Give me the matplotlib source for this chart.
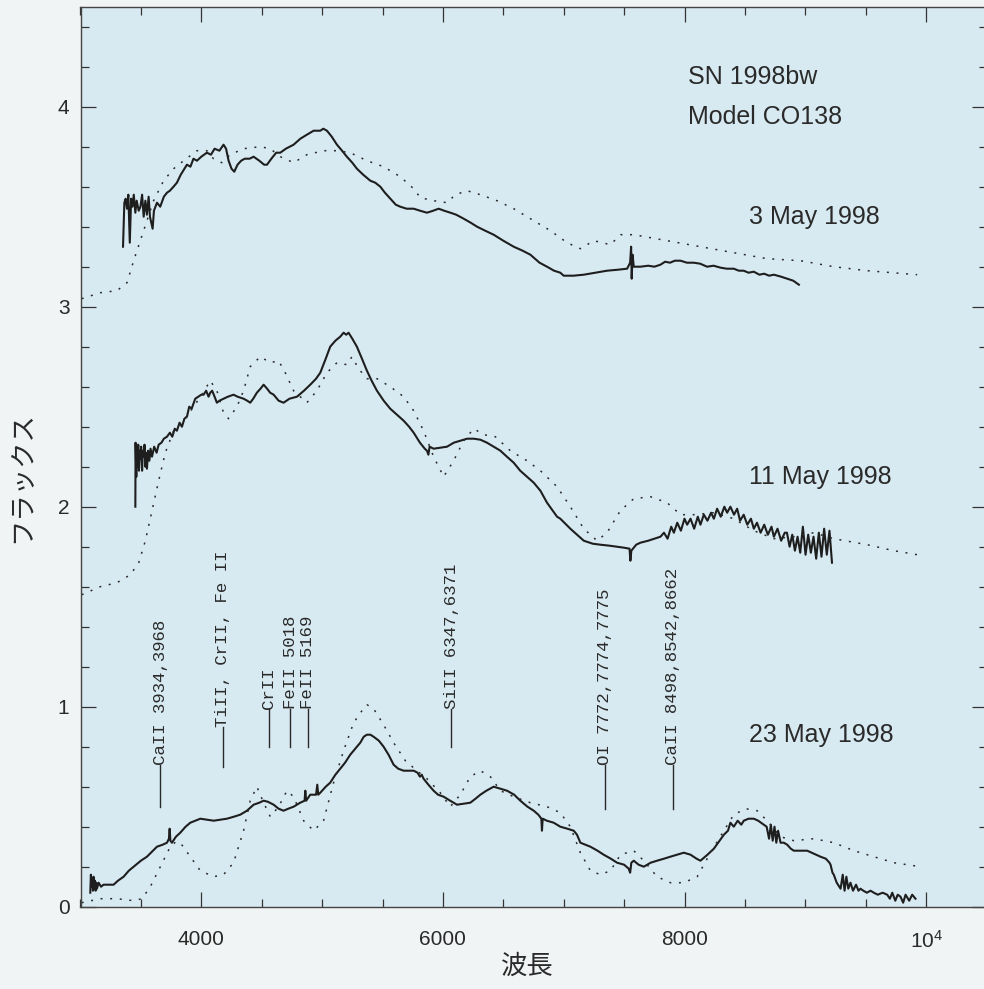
import matplotlib
matplotlib.use("Agg")
import matplotlib.pyplot as plt
from matplotlib.ticker import MultipleLocator, FixedLocator

plt.rcParams['font.family'] = ['Liberation Sans', 'DejaVu Sans']
plt.rcParams['mathtext.fontset'] = 'custom'
plt.rcParams['mathtext.rm'] = 'Liberation Sans'

# ---------------- data (wavelength in Angstrom, flux) ----------------
may3_wl = [3352, 3363, 3374, 3385, 3396, 3408, 3419, 3430, 3441, 3454, 3465, 3482, 3496, 3510,
           3523, 3537, 3550, 3564, 3575, 3586, 3597, 3608, 3633, 3660, 3690, 3716, 3740, 3770,
           3798, 3830, 3860, 3881, 3910, 3935, 3964, 4000, 4046, 4080, 4110, 4150, 4184, 4205,
           4226, 4250, 4273, 4300, 4330, 4360, 4400, 4433, 4480, 4520, 4544, 4580, 4620, 4654,
           4700, 4764, 4820, 4874, 4930, 4985, 5010, 5040, 5080, 5123, 5165, 5205, 5250, 5288,
           5340, 5399, 5440, 5482, 5520, 5565, 5610, 5647, 5700, 5758, 5810, 5868, 5920, 5965,
           6010, 6062, 6110, 6172, 6230, 6283, 6350, 6420, 6500, 6586, 6660, 6724, 6800, 6862,
           6920, 6972, 7000, 7080, 7166, 7260, 7359, 7450, 7525, 7550, 7558, 7563, 7570, 7580,
           7635, 7700, 7750, 7801, 7840, 7880, 7920, 7967, 8020, 8077, 8130, 8187, 8240, 8300,
           8350, 8408, 8450, 8490, 8530, 8574, 8620, 8660, 8700, 8740, 8800, 8850, 8900, 8947]
may3_fx = [3.30, 3.52, 3.54, 3.49, 3.56, 3.32, 3.54, 3.50, 3.56, 3.47, 3.53, 3.48, 3.50, 3.56,
           3.45, 3.53, 3.46, 3.55, 3.45, 3.42, 3.39, 3.48, 3.52, 3.50, 3.55, 3.57, 3.58, 3.60,
           3.62, 3.66, 3.69, 3.71, 3.70, 3.74, 3.73, 3.75, 3.77, 3.76, 3.79, 3.78, 3.81, 3.79,
           3.73, 3.69, 3.675, 3.71, 3.73, 3.74, 3.74, 3.75, 3.73, 3.71, 3.71, 3.74, 3.77, 3.77,
           3.79, 3.81, 3.84, 3.86, 3.88, 3.88, 3.89, 3.88, 3.85, 3.81, 3.78, 3.75, 3.72, 3.69,
           3.66, 3.63, 3.62, 3.60, 3.57, 3.54, 3.51, 3.50, 3.49, 3.49, 3.48, 3.47, 3.48, 3.49,
           3.48, 3.47, 3.46, 3.44, 3.42, 3.40, 3.38, 3.36, 3.33, 3.30, 3.28, 3.26, 3.22, 3.20,
           3.18, 3.17, 3.155, 3.155, 3.16, 3.17, 3.18, 3.185, 3.19, 3.22, 3.30, 3.14, 3.26, 3.20,
           3.20, 3.205, 3.20, 3.21, 3.225, 3.22, 3.23, 3.23, 3.22, 3.22, 3.215, 3.20, 3.205, 3.195,
           3.19, 3.19, 3.18, 3.18, 3.17, 3.175, 3.16, 3.165, 3.155, 3.16, 3.15, 3.14, 3.13, 3.11]

may3_model_wl = [3010, 3164, 3302, 3385, 3440, 3495, 3550, 3605, 3688, 3771, 3854, 3964, 4046,
                 4101, 4170, 4239, 4350, 4488, 4571, 4654, 4764, 4874, 5012, 5123, 5233, 5371,
                 5509, 5647, 5758, 5813, 5923, 6034, 6103, 6200, 6310, 6448, 6586, 6752, 6890,
                 7028, 7138, 7249, 7387, 7470, 7580, 7856, 8132, 8408, 8684, 8960, 9236, 9512, 9926]
may3_model_fx = [3.04, 3.07, 3.08, 3.12, 3.23, 3.33, 3.43, 3.53, 3.63, 3.69, 3.73, 3.78, 3.78,
                 3.74, 3.72, 3.76, 3.79, 3.80, 3.79, 3.75, 3.72, 3.76, 3.78, 3.78, 3.77, 3.73,
                 3.70, 3.65, 3.59, 3.545, 3.53, 3.52, 3.56, 3.58, 3.56, 3.53, 3.49, 3.43, 3.38,
                 3.32, 3.29, 3.33, 3.31, 3.36, 3.36, 3.33, 3.30, 3.27, 3.24, 3.23, 3.20, 3.18, 3.16]

may11_wl = [3454, 3456, 3462, 3466, 3472, 3478, 3484, 3490, 3496, 3502, 3510, 3516, 3523, 3530,
            3537, 3545, 3550, 3560, 3570, 3580, 3592, 3610, 3630, 3647, 3670, 3690, 3716, 3740,
            3760, 3780, 3798, 3820, 3840, 3860, 3881, 3900, 3920, 3950, 3975, 4000, 4019, 4040,
            4060, 4074, 4090, 4110, 4129, 4150, 4184, 4220, 4267, 4300, 4350, 4380, 4405, 4430,
            4460, 4490, 4516, 4545, 4570, 4599, 4640, 4681, 4730, 4792, 4850, 4902, 4950, 4985,
            5030, 5067, 5110, 5150, 5178, 5200, 5219, 5250, 5288, 5330, 5371, 5410, 5454, 5510,
            5564, 5620, 5675, 5720, 5758, 5810, 5850, 5868, 5880, 5890, 5923, 5980, 6034, 6090,
            6145, 6200, 6255, 6310, 6365, 6420, 6476, 6530, 6586, 6640, 6696, 6752, 6807, 6862,
            6945, 6972, 7055, 7110, 7166, 7240, 7304, 7380, 7442, 7500, 7545, 7552, 7560, 7600,
            7635, 7700, 7750, 7801, 7830, 7860, 7890, 7912, 7940, 7970, 8000, 8022, 8050, 8080,
            8110, 8132, 8160, 8190, 8220, 8243, 8270, 8300, 8330, 8353, 8380, 8410, 8436, 8460,
            8490, 8520, 8550, 8574, 8600, 8630, 8660, 8690, 8720, 8740, 8770, 8800, 8830, 8848,
            8870, 8892, 8914, 8936, 8958, 8980, 9002, 9024, 9046, 9068, 9090, 9112, 9134, 9156,
            9178, 9200, 9221]
may11_fx = [2.00, 2.32, 2.15, 2.30, 2.20, 2.31, 2.18, 2.28, 2.24, 2.30, 2.18, 2.28, 2.25, 2.31,
            2.20, 2.27, 2.19, 2.28, 2.23, 2.29, 2.25, 2.30, 2.27, 2.31, 2.32, 2.34, 2.35, 2.37,
            2.35, 2.39, 2.38, 2.42, 2.40, 2.44, 2.45, 2.50, 2.49, 2.54, 2.55, 2.56, 2.56, 2.58,
            2.55, 2.57, 2.58, 2.55, 2.52, 2.53, 2.54, 2.55, 2.56, 2.55, 2.54, 2.53, 2.52, 2.54,
            2.57, 2.59, 2.61, 2.59, 2.57, 2.56, 2.53, 2.52, 2.54, 2.55, 2.58, 2.61, 2.64, 2.67,
            2.74, 2.80, 2.83, 2.85, 2.87, 2.86, 2.87, 2.84, 2.80, 2.74, 2.68, 2.63, 2.58, 2.53,
            2.49, 2.46, 2.43, 2.40, 2.37, 2.32, 2.29, 2.28, 2.26, 2.30, 2.29, 2.295, 2.30, 2.32,
            2.33, 2.34, 2.34, 2.335, 2.32, 2.30, 2.28, 2.25, 2.22, 2.18, 2.15, 2.12, 2.08, 2.02,
            1.95, 1.94, 1.89, 1.86, 1.83, 1.815, 1.81, 1.805, 1.80, 1.795, 1.79, 1.73, 1.78, 1.81,
            1.82, 1.83, 1.84, 1.85, 1.87, 1.84, 1.90, 1.87, 1.92, 1.88, 1.94, 1.91, 1.94, 1.89,
            1.95, 1.91, 1.96, 1.93, 1.97, 1.94, 1.99, 1.95, 2.00, 1.97, 2.00, 1.96, 1.99, 1.93,
            1.96, 1.91, 1.94, 1.89, 1.92, 1.87, 1.91, 1.86, 1.90, 1.85, 1.89, 1.83, 1.87, 1.87,
            1.80, 1.86, 1.78, 1.85, 1.77, 1.90, 1.76, 1.86, 1.77, 1.85, 1.74, 1.87, 1.75, 1.89,
            1.76, 1.88, 1.72]

may11_model_wl = [3010, 3164, 3302, 3413, 3482, 3537, 3592, 3647, 3702, 3771, 3854, 3936, 4005,
                  4074, 4129, 4184, 4226, 4295, 4350, 4405, 4488, 4571, 4640, 4695, 4764, 4874,
                  4957, 5040, 5123, 5205, 5247, 5302, 5371, 5454, 5564, 5675, 5758, 5840, 5923,
                  6006, 6089, 6172, 6255, 6338, 6434, 6558, 6696, 6807, 6945, 7055, 7166, 7276,
                  7359, 7469, 7580, 7718, 7856, 7967, 8077, 8243, 8408, 8574, 8740, 8905, 9071,
                  9236, 9512, 9733, 9926]
may11_model_fx = [1.56, 1.60, 1.62, 1.66, 1.72, 1.83, 1.98, 2.13, 2.27, 2.38, 2.43, 2.50, 2.56,
                  2.63, 2.58, 2.47, 2.44, 2.50, 2.58, 2.70, 2.75, 2.72, 2.73, 2.67, 2.58, 2.52,
                  2.58, 2.67, 2.72, 2.71, 2.75, 2.69, 2.64, 2.64, 2.60, 2.55, 2.48, 2.38, 2.25,
                  2.15, 2.23, 2.33, 2.39, 2.36, 2.35, 2.28, 2.23, 2.18, 2.10, 2.00, 1.89, 1.83,
                  1.87, 1.98, 2.04, 2.05, 2.02, 1.96, 1.96, 1.97, 1.94, 1.88, 1.84, 1.85, 1.87,
                  1.84, 1.81, 1.78, 1.76]

may23_wl = [3081, 3086, 3092, 3097, 3103, 3108, 3114, 3120, 3125, 3131, 3136, 3150, 3170, 3191,
            3230, 3274, 3310, 3357, 3400, 3440, 3500, 3550, 3600, 3633, 3680, 3716, 3732, 3738,
            3744, 3757, 3790, 3826, 3870, 3909, 3950, 3992, 4050, 4102, 4160, 4212, 4270, 4322,
            4378, 4433, 4480, 4516, 4550, 4599, 4640, 4681, 4720, 4764, 4819, 4855, 4861, 4868,
            4902, 4950, 4960, 4968, 4985, 5030, 5067, 5110, 5150, 5190, 5233, 5275, 5316, 5345,
            5371, 5400, 5426, 5470, 5509, 5550, 5592, 5630, 5675, 5720, 5758, 5790, 5810, 5825,
            5840, 5880, 5923, 5960, 6006, 6060, 6117, 6170, 6227, 6270, 6310, 6360, 6420, 6475,
            6531, 6590, 6641, 6700, 6752, 6790, 6815, 6820, 6826, 6860, 6917, 6972, 7030, 7083,
            7110, 7138, 7180, 7221, 7280, 7331, 7390, 7442, 7500, 7538, 7550, 7560, 7580, 7620,
            7663, 7720, 7773, 7830, 7883, 7940, 7994, 8050, 8100, 8132, 8190, 8243, 8290, 8326,
            8360, 8380, 8408, 8440, 8470, 8491, 8530, 8574, 8610, 8657, 8680, 8700, 8715, 8730,
            8745, 8760, 8775, 8795, 8822, 8850, 8880, 8905, 8960, 9016, 9070, 9126, 9170, 9200,
            9209, 9225, 9236, 9260, 9292, 9310, 9325, 9340, 9356, 9374, 9395, 9420, 9440, 9457,
            9480, 9510, 9540, 9567, 9600, 9640, 9678, 9700, 9720, 9745, 9765, 9788, 9810, 9830,
            9860, 9885, 9912]
may23_fx = [0.07, 0.16, 0.10, 0.14, 0.08, 0.15, 0.09, 0.13, 0.08, 0.12, 0.09, 0.12, 0.10, 0.11,
            0.11, 0.11, 0.13, 0.15, 0.18, 0.20, 0.23, 0.25, 0.28, 0.30, 0.31, 0.32, 0.34, 0.39,
            0.33, 0.32, 0.35, 0.37, 0.40, 0.42, 0.43, 0.44, 0.435, 0.43, 0.435, 0.44, 0.45, 0.46,
            0.48, 0.51, 0.52, 0.53, 0.525, 0.51, 0.49, 0.48, 0.49, 0.50, 0.52, 0.53, 0.58, 0.53,
            0.56, 0.56, 0.61, 0.56, 0.57, 0.60, 0.62, 0.66, 0.69, 0.72, 0.76, 0.79, 0.82, 0.85,
            0.86, 0.86, 0.85, 0.83, 0.80, 0.76, 0.71, 0.69, 0.68, 0.68, 0.68, 0.67, 0.65, 0.66,
            0.64, 0.61, 0.58, 0.56, 0.55, 0.53, 0.51, 0.515, 0.52, 0.54, 0.56, 0.58, 0.60, 0.59,
            0.58, 0.56, 0.53, 0.50, 0.48, 0.46, 0.44, 0.38, 0.44, 0.43, 0.42, 0.40, 0.39, 0.38,
            0.36, 0.32, 0.31, 0.30, 0.28, 0.26, 0.24, 0.22, 0.21, 0.19, 0.17, 0.22, 0.23, 0.21,
            0.20, 0.22, 0.23, 0.24, 0.25, 0.26, 0.27, 0.26, 0.24, 0.23, 0.26, 0.29, 0.33, 0.36,
            0.38, 0.42, 0.40, 0.43, 0.41, 0.43, 0.44, 0.44, 0.43, 0.41, 0.40, 0.34, 0.41, 0.33,
            0.40, 0.32, 0.38, 0.32, 0.32, 0.31, 0.29, 0.28, 0.28, 0.28, 0.265, 0.25, 0.24, 0.22,
            0.21, 0.17, 0.16, 0.12, 0.09, 0.16, 0.08, 0.15, 0.09, 0.12, 0.08, 0.11, 0.08, 0.09,
            0.08, 0.07, 0.08, 0.07, 0.06, 0.07, 0.06, 0.04, 0.07, 0.03, 0.06, 0.05, 0.02, 0.06,
            0.03, 0.06, 0.04]

may23_model_wl = [3010, 3164, 3302, 3440, 3509, 3578, 3661, 3743, 3790, 3826, 3909, 3992, 4102,
                  4184, 4267, 4350, 4405, 4460, 4516, 4571, 4640, 4709, 4764, 4847, 4930, 5012,
                  5095, 5178, 5261, 5330, 5371, 5426, 5509, 5592, 5689, 5785, 5868, 5978, 6061,
                  6144, 6227, 6310, 6393, 6476, 6586, 6724, 6862, 6972, 7055, 7138, 7221, 7304,
                  7387, 7470, 7580, 7663, 7773, 7883, 7994, 8105, 8215, 8326, 8408, 8505, 8601,
                  8684, 8795, 8905, 9071, 9236, 9402, 9567, 9733, 9954]
may23_model_fx = [0.02, 0.04, 0.04, 0.03, 0.04, 0.10, 0.20, 0.30, 0.325, 0.32, 0.25, 0.18, 0.15,
                  0.16, 0.22, 0.38, 0.53, 0.60, 0.52, 0.45, 0.50, 0.58, 0.55, 0.43, 0.38, 0.43,
                  0.62, 0.78, 0.92, 0.98, 1.01, 0.99, 0.91, 0.82, 0.73, 0.68, 0.64, 0.57, 0.50,
                  0.56, 0.65, 0.68, 0.65, 0.58, 0.55, 0.52, 0.50, 0.47, 0.40, 0.27, 0.18, 0.16,
                  0.18, 0.26, 0.28, 0.23, 0.15, 0.12, 0.12, 0.15, 0.27, 0.38, 0.46, 0.49, 0.48,
                  0.43, 0.35, 0.33, 0.34, 0.32, 0.28, 0.25, 0.22, 0.20]

# line identifications
line_labels = ["CaII 3934,3968", "TiII, CrII, Fe II", "CrII", "FeII 5018", "FeII 5169",
               "SiII 6347,6371", "OI 7772,7774,7775", "CaII 8498,8542,8662"]
line_wl = [3661, 4179, 4557, 4737, 4880, 6070, 7339, 7902]
line_bottom = [0.50, 0.70, 0.80, 0.80, 0.80, 0.80, 0.49, 0.49]
line_top = [0.71, 0.90, 0.99, 0.99, 0.99, 0.99, 0.71, 0.71]

date_labels = ["3 May 1998", "11 May 1998", "23 May 1998"]
date_y = [3.45, 2.15, 0.86]
xtick_values = [4000, 6000, 8000, 10000]
xtick_labels = ["4000", "6000", "8000", r"$\mathregular{10^4}$"]

# ---------------- figure ----------------
W, H = 984, 989
fig = plt.figure(figsize=(W / 100, H / 100), dpi=100, facecolor='#f1f4f4')
ax = fig.add_axes([80.5 / W, 82.3 / H, 906 / W, 900 / H])
ax.set_facecolor('#d8eaf1')

obs_kw = dict(color='#1e1e1e', lw=1.5, solid_joinstyle='round')
mod_kw = dict(color='#2a2a2a', lw=1.1, linestyle=(0, (1.3, 5.0)))

for wl, fx in [(may3_wl, may3_fx), (may11_wl, may11_fx), (may23_wl, may23_fx)]:
    ax.plot(wl, fx, **obs_kw)
for wl, fx in [(may3_model_wl, may3_model_fx), (may11_model_wl, may11_model_fx),
               (may23_model_wl, may23_model_fx)]:
    ax.plot(wl, fx, **mod_kw)

for lab, wl, yb, yt in zip(line_labels, line_wl, line_bottom, line_top):
    ax.plot([wl, wl], [yb, yt], color='#2a2a2a', lw=1.0)
    ax.text(wl, yt, lab, rotation=90, ha='center', va='bottom', fontsize=12.5,
            family='Liberation Mono', color='#2a2a2a')

ax.text(8031, 4.15, "SN 1998bw", fontsize=18, ha='left', va='center', color='#2a2a2a')
ax.text(8031, 3.95, "Model CO138", fontsize=18, ha='left', va='center', color='#2a2a2a')
for lab, yy in zip(date_labels, date_y):
    ax.text(8536, yy, lab, fontsize=18, ha='left', va='center', color='#2a2a2a')

ax.set_xlim(3000, 10500)
ax.set_ylim(0, 4.5)
ax.xaxis.set_major_locator(FixedLocator(xtick_values))
ax.set_xticklabels(xtick_labels)
ax.xaxis.set_minor_locator(MultipleLocator(500))
ax.yaxis.set_major_locator(MultipleLocator(1))
ax.yaxis.set_minor_locator(MultipleLocator(0.2))
ax.tick_params(which='both', direction='in', top=True, right=True, colors='#333333',
               width=0.9, labelsize=15, labelcolor='#2a2a2a')
ax.tick_params(which='major', length=11)
ax.tick_params(which='minor', length=5.5)
ax.tick_params(axis='x', which='major', pad=17)
ax.tick_params(axis='y', which='major', pad=8)
for s in ax.spines.values():
    s.set_color('#444444')
    s.set_linewidth(1.0)

ax.set_xlabel("波長", fontsize=19, family=['Noto Sans CJK JP', 'DejaVu Sans'],
              color='#2a2a2a', va='center')
ax.xaxis.set_label_coords((527 - 80.5) / 906, (906.7 - 966) / 900)
ax.set_ylabel("フラックス", fontsize=19, family=['Noto Sans CJK JP', 'DejaVu Sans'],
              color='#2a2a2a', va='center', ha='center')
ax.yaxis.set_label_coords((22 - 80.5) / 906, (906.7 - 477) / 900)

fig.savefig("out.png", dpi=100, facecolor=fig.get_facecolor())
